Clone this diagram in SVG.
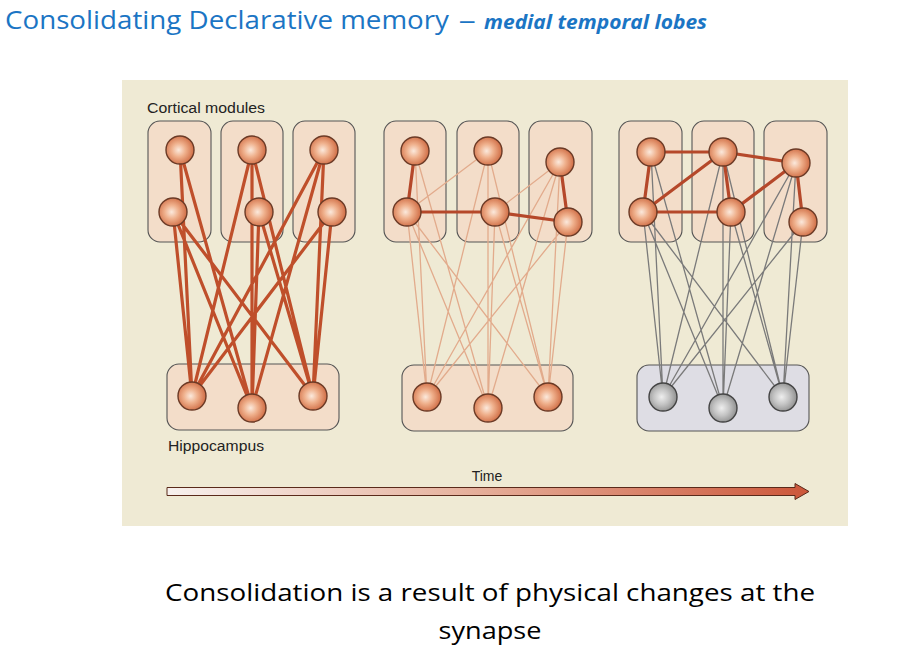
<svg xmlns="http://www.w3.org/2000/svg" width="912" height="668" viewBox="0 0 912 668">
<defs>
<radialGradient id="gOr" cx="0.45" cy="0.5" r="0.55">
<stop offset="0" stop-color="#fbe9dc"/>
<stop offset="0.45" stop-color="#efb08c"/>
<stop offset="1" stop-color="#cf6c44"/>
</radialGradient>
<radialGradient id="gGr" cx="0.45" cy="0.5" r="0.55">
<stop offset="0" stop-color="#eeeeee"/>
<stop offset="0.5" stop-color="#c4c4c4"/>
<stop offset="1" stop-color="#8f8f8f"/>
</radialGradient>
<linearGradient id="gTime" x1="0" y1="0" x2="1" y2="0">
<stop offset="0" stop-color="#f7f1ee"/>
<stop offset="0.45" stop-color="#e7b4a0"/>
<stop offset="1" stop-color="#cc573a"/>
</linearGradient>
</defs>
<style>
.bg{fill:#efead4}
.box{fill:#f4d9c6;fill-opacity:0.8;stroke:#555;stroke-width:1.1}
.gbox{fill:#dedde4;stroke:#555;stroke-width:1.1}
.n{fill:url(#gOr);stroke:#6b3a26;stroke-width:1.4}
.g{fill:url(#gGr);stroke:#444;stroke-width:1.4}
.s1{stroke:#bf4f2b;stroke-width:3.2;fill:none}
.s2{stroke:#e2ab8c;stroke-width:1.3;fill:none}
.s3{stroke:#7a7a7a;stroke-width:1.3;fill:none}
.k{stroke:#b5482a;stroke-width:3.2;fill:none}
.lab{font-family:"Liberation Sans",Arial,sans-serif;font-size:14px;fill:#222}
</style>
<rect x="0" y="0" width="912" height="668" fill="#ffffff"/>
<text x="5" y="29" font-family="'Open Sans','Liberation Sans',sans-serif" font-size="26" fill="#1b75c4" textLength="444" lengthAdjust="spacingAndGlyphs">Consolidating Declarative memory</text>
<text x="460" y="29" font-family="'Liberation Sans',sans-serif" font-size="26" fill="#1b75c4">–</text>
<text x="484" y="29" font-family="'Open Sans','Liberation Sans',sans-serif" font-size="19" font-weight="bold" font-style="italic" fill="#1b75c4" textLength="223" lengthAdjust="spacingAndGlyphs">medial temporal lobes</text>

<rect class="bg" x="122" y="80" width="726" height="446"/>

<g id="modules">
<rect class="box" x="148" y="121" width="63" height="121" rx="12"/>
<rect class="box" x="221" y="121" width="62" height="121" rx="12"/>
<rect class="box" x="293" y="121" width="62" height="121" rx="12"/>
<rect class="box" x="167" y="364" width="172" height="66" rx="12"/>
<rect class="box" x="384" y="121" width="62" height="121" rx="12"/>
<rect class="box" x="457" y="121" width="62" height="121" rx="12"/>
<rect class="box" x="529" y="121" width="63" height="121" rx="12"/>
<rect class="box" x="402" y="365" width="171" height="66" rx="12"/>
<rect class="box" x="619" y="121" width="63" height="121" rx="12"/>
<rect class="box" x="692" y="121" width="62" height="121" rx="12"/>
<rect class="box" x="764" y="121" width="63" height="121" rx="12"/>
<rect class="gbox" x="637" y="365" width="172" height="66" rx="12"/>
</g>

<g id="connectors">
<g class="s1">
<path d="M180 150L192 396M180 150L252 408M173 212L192 396M173 212L252 408M173 212L313 396M252 150L192 396M252 150L252 408M252 150L313 396M259 212L252 408M259 212L313 396M324 150L192 396M324 150L252 408M324 150L313 396M332 212L313 396M332 212L192 396"/>
</g>
<g class="s2">
<path d="M415 151L427 397M415 151L488 408M407 212L427 397M407 212L488 408M407 212L548 397M488 151L427 397M488 151L488 408M488 151L548 397M495 212L488 408M495 212L548 397M560 162L427 397M560 162L488 408M560 162L548 397M568 222L548 397M568 222L427 397M407 212L488 151M495 212L560 162"/>
</g>
<g class="k">
<path d="M415 151L407 212M407 212L495 212M495 212L568 222M560 162L568 222"/>
</g>
<g class="s3">
<path d="M651 152L663 397M651 152L723 408M643 212L663 397M643 212L723 408M643 212L783 397M723 152L663 397M723 152L723 408M723 152L783 397M731 212L723 408M731 212L783 397M796 163L663 397M796 163L723 408M796 163L783 397M803 222L783 397M803 222L663 397"/>
</g>
<g class="k">
<path d="M651 152L723 152M723 152L796 163M651 152L643 212M643 212L723 152M643 212L731 212M723 152L731 212M731 212L796 163M796 163L803 222"/>
</g>
</g>

<g id="panel1-nodes">
<circle class="n" cx="180" cy="150" r="14"/>
<circle class="n" cx="173" cy="212" r="14"/>
<circle class="n" cx="252" cy="150" r="14"/>
<circle class="n" cx="259" cy="212" r="14"/>
<circle class="n" cx="324" cy="150" r="14"/>
<circle class="n" cx="332" cy="212" r="14"/>
<circle class="n" cx="192" cy="396" r="14"/>
<circle class="n" cx="252" cy="408" r="14"/>
<circle class="n" cx="313" cy="396" r="14"/>
</g>
<g id="panel2-nodes">
<circle class="n" cx="415" cy="151" r="14"/>
<circle class="n" cx="407" cy="212" r="14"/>
<circle class="n" cx="488" cy="151" r="14"/>
<circle class="n" cx="495" cy="212" r="14"/>
<circle class="n" cx="560" cy="162" r="14"/>
<circle class="n" cx="568" cy="222" r="14"/>
<circle class="n" cx="427" cy="397" r="14"/>
<circle class="n" cx="488" cy="408" r="14"/>
<circle class="n" cx="548" cy="397" r="14"/>
</g>
<g id="panel3-nodes">
<circle class="n" cx="651" cy="152" r="14"/>
<circle class="n" cx="643" cy="212" r="14"/>
<circle class="n" cx="723" cy="152" r="14"/>
<circle class="n" cx="731" cy="212" r="14"/>
<circle class="n" cx="796" cy="163" r="14"/>
<circle class="n" cx="803" cy="222" r="14"/>
<circle class="g" cx="663" cy="397" r="14"/>
<circle class="g" cx="723" cy="408" r="14"/>
<circle class="g" cx="783" cy="397" r="14"/>
</g>

<g id="labels">
<text class="lab" x="147" y="113" textLength="118" lengthAdjust="spacingAndGlyphs">Cortical modules</text>
<text class="lab" x="168" y="451" textLength="96" lengthAdjust="spacingAndGlyphs">Hippocampus</text>
<text class="lab" x="487" y="481" text-anchor="middle">Time</text>
</g>

<g id="time-arrow">
<path d="M167 487.5H795V483.5L809 491.5L795 499.5V495.5H167Z" fill="url(#gTime)" stroke="#5a2a1a" stroke-width="1"/>
</g>

<g id="caption" font-family="'Open Sans','Liberation Sans',sans-serif" font-size="24" fill="#000">
<text x="490" y="601" text-anchor="middle" textLength="650" lengthAdjust="spacingAndGlyphs">Consolidation is a result of physical changes at the</text>
<text x="490" y="639" text-anchor="middle" textLength="103" lengthAdjust="spacingAndGlyphs">synapse</text>
</g>
</svg>
